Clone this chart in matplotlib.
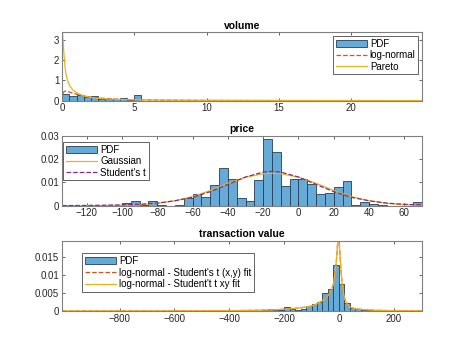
import numpy as np
import matplotlib
matplotlib.use('Agg')
import matplotlib.pyplot as plt

plt.rcParams['font.family'] = ['Liberation Sans', 'DejaVu Sans']

# Cores no estilo MATLAB
BAR_FACE = '#66aad7'
BAR_EDGE = '#263f55'
ORANGE = '#d95319'
YELLOW = '#edb120'
PURPLE = '#7e2f8e'
FRAME = '#808080'

# ---- volume ----
vol_bin_start = 0.02
vol_bin_width = 0.496
vol_pdf = [0.32, 0.21, 0.30, 0.16, 0.22, 0.10, 0.10, 0.07, 0.11, 0.04, 0.26]
vol_x = [0.01, 0.05, 0.1, 0.2, 0.3, 0.5, 0.75, 1.0, 1.5, 2.0, 2.5, 3.0, 4.0, 5.0,
         7.0, 10.0, 15.0, 20.0, 24.9]
vol_lognormal = [0.02, 0.30, 0.42, 0.47, 0.47, 0.43, 0.37, 0.32, 0.24, 0.18, 0.14,
                 0.11, 0.07, 0.05, 0.025, 0.012, 0.005, 0.002, 0.001]
par_x = [0.03, 0.06, 0.09, 0.12, 0.16, 0.21, 0.28, 0.4, 0.55, 0.74, 1.0, 1.3, 1.6,
         2.0, 2.5, 3.0, 4.0, 5.0, 7.0, 10.0, 15.0, 20.0, 24.9]
vol_pareto = [3.38, 3.1, 2.8, 2.45, 2.05, 1.65, 1.3, 0.96, 0.72, 0.54, 0.40, 0.29,
              0.22, 0.16, 0.12, 0.09, 0.06, 0.045, 0.03, 0.02, 0.012, 0.008, 0.006]

# ---- price ----
price_bin_start = -135
price_bin_width = 5
price_pdf = [0.0003, 0, 0, 0, 0, 0, 0, 0.0013, 0.0019, 0.0001, 0.0019, 0.0004, 0,
             0.0003, 0.0035, 0.0050, 0.0037, 0.0090, 0.0162, 0.0113, 0.0034, 0.0021,
             0.0112, 0.0284, 0.0229, 0.0086, 0.0115, 0.0114, 0.0091, 0.0050, 0.0054,
             0.0078, 0.0106, 0.0004, 0.0014, 0.0009, 0.0003, 0, 0, 0, 0.0016]
price_x = [-134, -120, -110, -100, -90, -80, -70, -60, -50, -40, -30, -20, -15, -10,
           0, 10, 20, 30, 40, 50, 60, 70]
price_gauss = [0.0, 0.00001, 0.00004, 0.00014, 0.0004, 0.0010, 0.0021, 0.0039, 0.0065,
               0.0096, 0.0122, 0.0137, 0.0139, 0.0137, 0.0122, 0.0096, 0.0065, 0.0039,
               0.0021, 0.0010, 0.0004, 0.00014]
price_student = [0.00005, 0.0001, 0.0002, 0.00035, 0.0006, 0.0011, 0.0021, 0.0036,
                 0.0060, 0.0091, 0.0123, 0.0144, 0.0147, 0.0144, 0.0123, 0.0091,
                 0.0060, 0.0036, 0.0021, 0.0011, 0.0006, 0.00035]

# ---- transaction value ----
tv_bin_start = -280
tv_bin_width = 20
tv_pdf = [0.0002, 0.0007, 0.0003, 0.0004, 0.0010, 0.0005, 0.0003, 0.0006, 0.0013,
          0.0021, 0.0024, 0.0050, 0.0062, 0.0129, 0.0075, 0.0022, 0.0009, 0.0006,
          0.0004, 0.0003, 0.0002]
tv_x = [-1010, -600, -400, -300, -250, -200, -150, -120, -100, -80, -60, -45, -33,
        -25, -20, -15, -11, -8, -5, -2, 1, 3, 6, 9, 12, 17, 22, 30, 40, 60, 90, 130,
        200, 303]
tv_fit_xy = [0.0, 0.00002, 0.0001, 0.0002, 0.0003, 0.0005, 0.0008, 0.0011, 0.0014,
             0.0020, 0.0029, 0.0038, 0.0050, 0.0064, 0.0076, 0.0102, 0.0128, 0.0152,
             0.0188, 0.0200, 0.0188, 0.0168, 0.0130, 0.0098, 0.0074, 0.0048, 0.0032,
             0.0019, 0.0011, 0.0006, 0.0004, 0.0002, 0.0001, 0.00003]
tv_fit_t = tv_fit_xy


def style_axes(ax, title):
    ax.set_title(title, fontsize=7.5, fontweight='bold', pad=2.5)
    ax.tick_params(direction='in', top=True, right=True, length=2.5, width=0.5,
                   labelsize=7, colors='#262626', pad=2)
    for s in ax.spines.values():
        s.set_color(FRAME)
        s.set_linewidth(0.8)


def draw_hist(ax, start, width, heights):
    edges = start + width * np.arange(len(heights))
    bars = ax.bar(edges, heights, width=width, align='edge', color=BAR_FACE,
                  edgecolor=BAR_EDGE, linewidth=0.6, label='PDF')
    return bars


def legend(ax, handles, **kw):
    leg = ax.legend(handles=handles, fontsize=7, borderaxespad=0, borderpad=0.3,
                    labelspacing=0.15, handlelength=3.2, handletextpad=0.3,
                    fancybox=False, framealpha=1, **kw)
    leg.get_frame().set_edgecolor('#262626')
    leg.get_frame().set_linewidth(0.5)


fig = plt.figure(figsize=(4.67, 3.5), dpi=100)
L, W = 0.1328, 0.7709
LW = 0.9

# volume
ax1 = fig.add_axes([L, 0.7123, W, 0.1954])
b1 = draw_hist(ax1, vol_bin_start, vol_bin_width, vol_pdf)
l1, = ax1.plot(vol_x, vol_lognormal, '--', color=ORANGE, lw=LW, label='log-normal')
l2, = ax1.plot(par_x, vol_pareto, '-', color=YELLOW, lw=LW, label='Pareto')
ax1.set_xlim(0, 24.9)
ax1.set_ylim(0, 3.38)
ax1.set_xticks([0, 5, 10, 15, 20])
ax1.set_yticks([0, 1, 2, 3])
style_axes(ax1, 'volume')
legend(ax1, [b1, l1, l2], loc='upper right', bbox_to_anchor=(0.99, 0.95))

# price
ax2 = fig.add_axes([L, 0.4123, W, 0.2])
b2 = draw_hist(ax2, price_bin_start, price_bin_width, price_pdf)
l3, = ax2.plot(price_x, price_gauss, '-', color=YELLOW, lw=LW, label='Gaussian')
l4, = ax2.plot(price_x, price_student, '--', color=PURPLE, lw=LW, label="Student's t")
ax2.set_xlim(-134, 70)
ax2.set_ylim(0, 0.03)
ax2.set_xticks(range(-120, 61, 20))
ax2.set_yticks([0, 0.01, 0.02, 0.03])
ax2.set_yticklabels(['0', '0.01', '0.02', '0.03'])
style_axes(ax2, 'price')
legend(ax2, [b2, l3, l4], loc='upper left', bbox_to_anchor=(0.004, 0.914))

# transaction value
ax3 = fig.add_axes([L, 0.1114, W, 0.2009])
b3 = draw_hist(ax3, tv_bin_start, tv_bin_width, tv_pdf)
l5, = ax3.plot(tv_x, tv_fit_xy, '--', color=ORANGE, lw=LW,
               label="log-normal - Student's t (x,y) fit")
l6, = ax3.plot(tv_x, tv_fit_t, '-', color=YELLOW, lw=LW,
               label="log-normal - Student't t xy fit")
ax3.set_xlim(-1010, 303)
ax3.set_ylim(0, 0.0197)
ax3.set_xticks(range(-800, 201, 200))
ax3.set_yticks([0, 0.005, 0.01, 0.015])
ax3.set_yticklabels(['0', '0.005', '0.01', '0.015'])
style_axes(ax3, 'transaction value')
legend(ax3, [b3, l5, l6], loc='upper left', bbox_to_anchor=(0.055, 0.82))

fig.savefig('out.png', dpi=100)
